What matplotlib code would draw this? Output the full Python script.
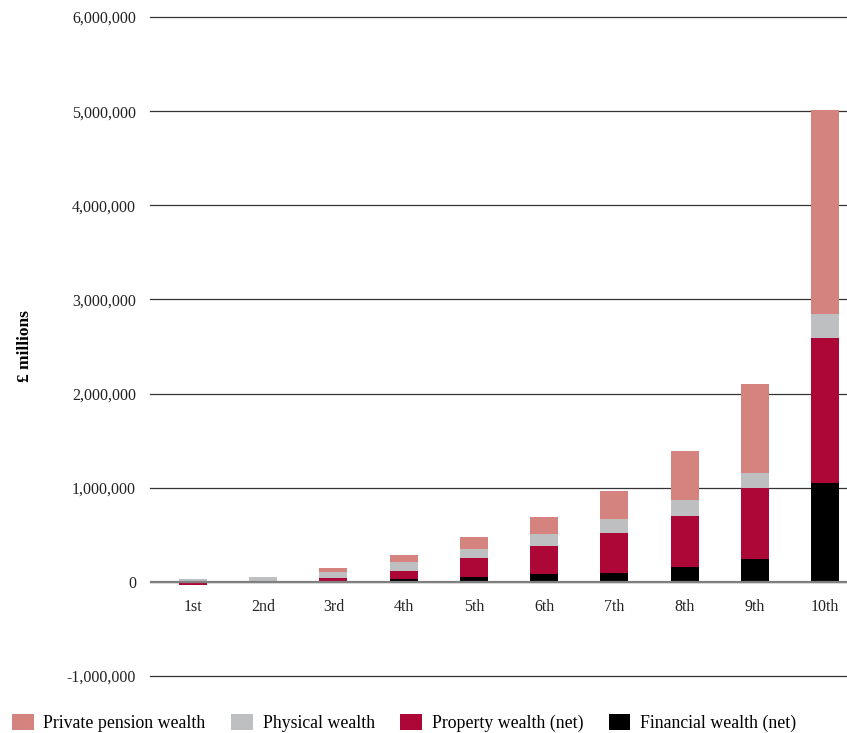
import matplotlib
matplotlib.use("Agg")
import matplotlib.pyplot as plt
from matplotlib.patches import Patch
import numpy as np

deciles = ["1st", "2nd", "3rd", "4th", "5th", "6th", "7th", "8th", "9th", "10th"]
financial = [12000, 3000, 10000, 32000, 53000, 85000, 96000, 159000, 244000, 1051000]
property_ = [-35000, 0, 32000, 85000, 205000, 297000, 424000, 542000, 754000, 1540000]
physical = [22000, 50000, 64000, 95000, 92000, 128000, 149000, 170000, 159000, 255000]
pension = [0, 0, 43000, 75000, 128000, 180000, 297000, 520000, 945000, 2166000]

series_names = ["Private pension wealth", "Physical wealth", "Property wealth (net)", "Financial wealth (net)"]
colors = {"Financial wealth (net)": "#000000", "Property wealth (net)": "#AD0737",
          "Physical wealth": "#BEBFC1", "Private pension wealth": "#D4837F"}
yticks = [-1000000, 0, 1000000, 2000000, 3000000, 4000000, 5000000, 6000000]

plt.rcParams['font.family'] = ['Liberation Serif', 'DejaVu Serif']

fig = plt.figure(figsize=(8.47, 7.33), dpi=100)
ax = fig.add_axes([150/847, 57/733, 1 - 150/847, (676-17)/733])
ax.spines['bottom'].set_position(('data', 0))

x = np.arange(len(deciles))
w = 0.4
pos_base = np.zeros(len(deciles))
neg_base = np.zeros(len(deciles))
order = [("Financial wealth (net)", financial), ("Property wealth (net)", property_),
         ("Physical wealth", physical), ("Private pension wealth", pension)]
for name, vals in order:
    v = np.array(vals, dtype=float)
    bottoms = np.where(v >= 0, pos_base, neg_base)
    ax.bar(x, v, w, bottom=bottoms, color=colors[name], zorder=3, linewidth=0)
    pos_base = pos_base + np.where(v >= 0, v, 0)
    neg_base = neg_base + np.where(v < 0, v, 0)

ax.set_xlim(-0.61, 9.31)
ax.set_ylim(-1000000, 6000000)
ax.set_yticks(yticks)
ax.set_yticklabels([f"{t:,}" for t in yticks], fontsize=11.5, color="#222222")
ax.set_xticks(x)
ax.set_xticklabels(deciles, fontsize=11.5, color="#222222")
ax.tick_params(axis='x', length=0, pad=12)
ax.tick_params(axis='y', length=0, pad=10)
for s in ax.spines.values():
    s.set_visible(False)
ax.grid(axis='y', color="#333333", linewidth=0.9, zorder=0)
for gl in ax.get_ygridlines():
    gl.set_clip_on(False)
ax.axhline(0, color="#808080", linewidth=1.6, zorder=4)
ax.set_ylabel("£ millions", fontsize=12.5, fontweight='bold', labelpad=0)
ax.yaxis.set_label_coords(-150/697 + 33/697, 0.5)

handles = [Patch(facecolor=colors[n], edgecolor='none', label=n) for n in series_names]
fig.legend(handles=handles, loc='center left', bbox_to_anchor=(7/847, 10/733), ncol=4,
           frameon=False, fontsize=12.8, handlelength=1.2, handleheight=1.0,
           handletextpad=0.55, columnspacing=1.45, borderaxespad=0.0, borderpad=0.3)

fig.savefig("out.png", dpi=100)
